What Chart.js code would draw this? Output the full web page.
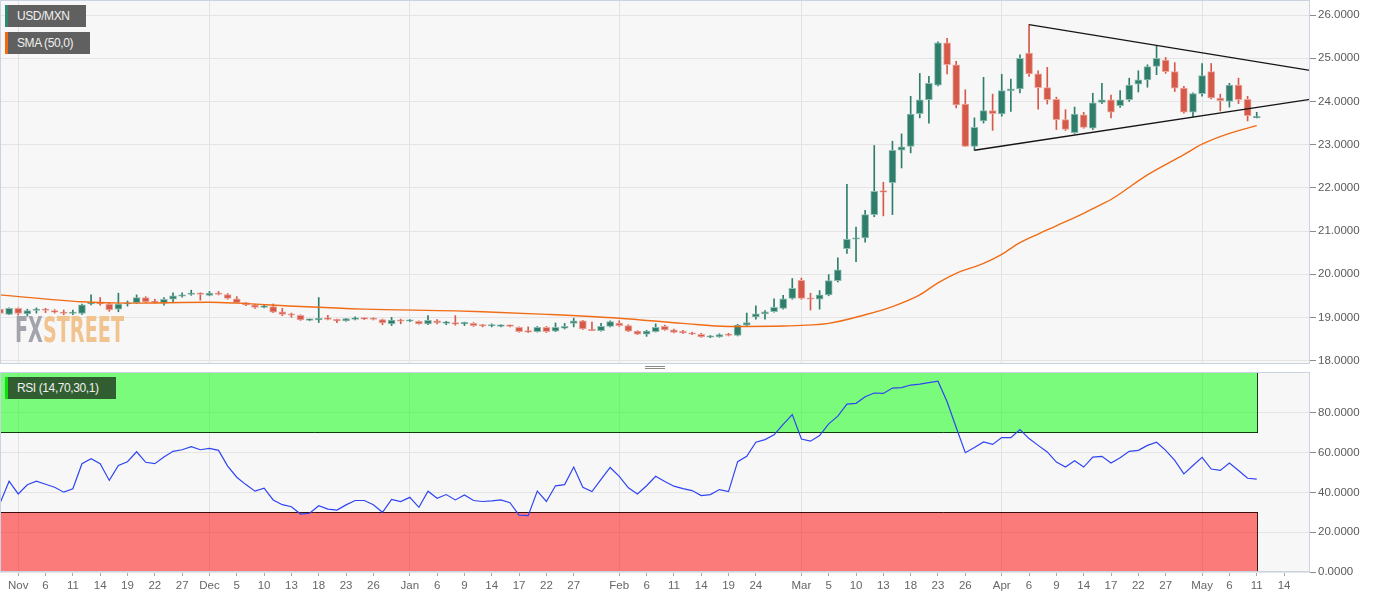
<!DOCTYPE html>
<html>
<head>
<meta charset="utf-8">
<title>USD/MXN</title>
<script src="https://cdn.jsdelivr.net/npm/chart.js@4.4.1/dist/chart.umd.min.js"></script>
<style>
    body { margin: 0; width: 1387px; height: 598px; overflow: hidden; background: #fff; position: relative; font-family: "Liberation Sans", Arial, sans-serif; }
    .panel { position: absolute; left: 0; width: 1387px; }
    #pricePanel { top: 0; height: 364px; }
    #rsiPanel { top: 370px; height: 228px; }
    .tag { position: absolute; left: 5px; height: 22px; line-height: 22px; box-sizing: border-box; padding-left: 9px; border-left: 3px solid; background: #606060; color: #f0f0f0; font-size: 12px; letter-spacing: -0.4px; white-space: nowrap; }
    #tagPrice { top: 5px; width: 81px; border-color: #2e8b6e; }
    #tagSma { top: 32px; width: 85px; border-color: #ef6a10; }
    #tagRsi { top: 377px; width: 111px; border-color: #10e010; background: #305e30; }
    #splitter { position: absolute; left: 645px; top: 366px; width: 20px; height: 1px; border-top: 1px solid #8a8a8a; border-bottom: 1px solid #8a8a8a; }
    #logo { position: absolute; left: 15px; top: 312px; font: bold 36px/36px "Liberation Sans Narrow", "DejaVu Sans Condensed", sans-serif; transform-origin: 0 0; white-space: nowrap; }
    #logo .fx { color: #a3a3ab; }
    #logo .st { color: #f1c48f; }
</style>
</head>
<body>
<div class="panel" id="pricePanel"><canvas id="chartPrice"></canvas></div>
<div class="panel" id="rsiPanel"><canvas id="chartRsi"></canvas></div>
<div id="logo"><span class="fx">FX</span><span class="st">STREET</span></div>
<div class="tag" id="tagPrice">USD/MXN</div>
<div class="tag" id="tagSma">SMA (50,0)</div>
<div class="tag" id="tagRsi">RSI (14,70,30,1)</div>
<div id="splitter"></div>
<script>
// daily candles, one per weekday starting 2019-10-30
const opens = [
    19.19, 19.07, 19.21, 19.08, 19.16, 19.18, 19.15, 19.12, 19.09, 19.09,
    19.31, 19.35, 19.31, 19.19, 19.31, 19.34, 19.46, 19.38, 19.33, 19.42,
    19.49, 19.53, 19.56, 19.51, 19.56, 19.53, 19.43, 19.34, 19.29, 19.23,
    19.25, 19.13, 19.08, 19.05, 18.93, 18.94, 18.99, 18.95, 18.92, 18.95,
    18.98, 18.98, 18.95, 18.85, 18.94, 18.91, 18.91, 18.85, 18.92, 18.86,
    18.88, 18.85, 18.86, 18.82, 18.80, 18.79, 18.81, 18.77, 18.67, 18.67,
    18.77, 18.68, 18.75, 18.86, 18.92, 18.71, 18.69, 18.79, 18.87, 18.81,
    18.68, 18.61, 18.67, 18.79, 18.71, 18.68, 18.64, 18.61, 18.54, 18.55,
    18.60, 18.58, 18.82, 19.01, 19.08, 19.13, 19.21, 19.44, 19.86, 19.44,
    19.42, 19.52, 19.85, 20.59, 20.81, 20.84, 21.38, 21.93, 22.12, 22.87,
    22.96, 23.72, 24.04, 24.38, 25.36, 24.85, 23.94, 22.96, 23.55, 23.79,
    23.71, 24.25, 24.29, 25.12, 24.64, 24.32, 24.05, 23.58, 23.28, 23.69,
    23.38, 23.98, 24.04, 23.90, 24.04, 24.40, 24.50, 24.81, 24.96, 24.69,
    24.31, 23.75, 24.18, 24.69, 24.08, 24.00, 24.38, 24.05, 23.62
]
const highs = [
    19.20, 19.22, 19.22, 19.19, 19.22, 19.21, 19.18, 19.17, 19.17, 19.31,
    19.52, 19.46, 19.33, 19.56, 19.38, 19.52, 19.48, 19.42, 19.46, 19.57,
    19.57, 19.63, 19.57, 19.60, 19.60, 19.55, 19.48, 19.35, 19.31, 19.29,
    19.31, 19.21, 19.10, 19.06, 18.96, 19.46, 19.05, 18.96, 18.98, 19.01,
    18.99, 18.99, 18.96, 19.00, 18.96, 18.95, 18.92, 19.04, 18.95, 18.91,
    19.04, 18.89, 18.88, 18.84, 18.85, 18.83, 18.82, 18.78, 18.78, 18.79,
    18.79, 18.87, 18.86, 18.98, 18.93, 18.89, 18.86, 18.92, 18.92, 18.83,
    18.69, 18.70, 18.85, 18.82, 18.73, 18.70, 18.66, 18.63, 18.58, 18.62,
    18.63, 18.84, 19.10, 19.27, 19.16, 19.43, 19.51, 19.90, 19.91, 19.56,
    19.62, 19.99, 20.38, 22.08, 21.09, 21.48, 22.98, 22.13, 23.08, 23.25,
    24.12, 24.65, 24.58, 25.38, 25.46, 24.93, 24.27, 23.62, 24.56, 24.17,
    24.63, 24.52, 25.08, 25.78, 24.71, 24.79, 24.10, 23.81, 23.87, 23.75,
    24.19, 24.42, 24.15, 24.25, 24.54, 24.71, 24.85, 25.29, 25.02, 24.90,
    24.35, 24.20, 24.88, 24.88, 24.17, 24.42, 24.54, 24.12, 23.75
]
const lows = [
    19.07, 19.06, 19.05, 19.03, 19.10, 19.11, 19.10, 19.06, 19.06, 19.07,
    19.29, 19.28, 19.14, 19.13, 19.26, 19.32, 19.34, 19.33, 19.28, 19.36,
    19.47, 19.51, 19.40, 19.50, 19.52, 19.42, 19.33, 19.27, 19.21, 19.22,
    19.11, 19.04, 19.00, 18.93, 18.92, 18.88, 18.94, 18.88, 18.91, 18.94,
    18.95, 18.94, 18.83, 18.81, 18.85, 18.90, 18.84, 18.83, 18.85, 18.83,
    18.82, 18.81, 18.79, 18.78, 18.78, 18.78, 18.78, 18.66, 18.65, 18.66,
    18.65, 18.67, 18.73, 18.78, 18.72, 18.69, 18.68, 18.78, 18.79, 18.67,
    18.60, 18.56, 18.66, 18.70, 18.64, 18.63, 18.60, 18.54, 18.53, 18.54,
    18.57, 18.57, 18.81, 18.96, 18.96, 19.12, 19.19, 19.42, 19.42, 19.17,
    19.19, 19.50, 19.82, 20.48, 20.29, 20.74, 21.33, 21.35, 21.38, 22.46,
    22.81, 23.62, 23.50, 24.36, 24.64, 23.85, 22.96, 22.87, 23.50, 23.33,
    23.66, 23.77, 24.20, 24.58, 23.82, 23.94, 23.35, 23.33, 23.26, 23.38,
    23.35, 23.95, 23.62, 23.86, 24.00, 24.22, 24.33, 24.62, 24.65, 24.23,
    23.73, 23.65, 24.12, 24.06, 23.78, 23.87, 23.95, 23.55, 23.62
]
const closes = [
    19.09, 19.21, 19.09, 19.16, 19.17, 19.16, 19.12, 19.09, 19.11, 19.29,
    19.35, 19.31, 19.17, 19.31, 19.34, 19.46, 19.36, 19.34, 19.42, 19.50,
    19.52, 19.56, 19.53, 19.56, 19.53, 19.44, 19.34, 19.29, 19.23, 19.27,
    19.12, 19.07, 19.05, 18.94, 18.95, 18.98, 18.95, 18.92, 18.97, 18.99,
    18.96, 18.95, 18.87, 18.94, 18.91, 18.93, 18.85, 18.93, 18.87, 18.88,
    18.84, 18.87, 18.81, 18.80, 18.82, 18.81, 18.79, 18.67, 18.66, 18.77,
    18.67, 18.77, 18.79, 18.92, 18.73, 18.69, 18.79, 18.90, 18.81, 18.68,
    18.61, 18.68, 18.77, 18.71, 18.65, 18.64, 18.61, 18.55, 18.56, 18.60,
    18.58, 18.82, 18.88, 19.08, 19.13, 19.23, 19.43, 19.67, 19.44, 19.42,
    19.52, 19.85, 20.10, 20.81, 20.83, 21.38, 21.92, 21.90, 22.87, 22.95,
    23.71, 24.04, 24.42, 25.36, 24.85, 23.92, 22.96, 23.40, 23.79, 23.72,
    24.25, 24.29, 25.00, 24.64, 24.32, 24.04, 23.58, 23.35, 23.71, 23.40,
    23.97, 24.04, 23.75, 24.04, 24.38, 24.50, 24.81, 25.00, 24.69, 24.31,
    23.75, 24.18, 24.60, 24.08, 24.02, 24.38, 24.04, 23.67, 23.63
]
const rsiValues = [
    34.5, 45.6, 39.2, 43.8, 45.6, 44.1, 42.6, 40.1, 41.8, 54.4,
    56.9, 54.4, 46.0, 53.5, 55.4, 60.4, 55.1, 54.4, 57.7, 60.6,
    61.4, 63.0, 61.4, 62.1, 61.1, 53.2, 47.6, 43.9, 40.6, 42.1,
    36.2, 33.8, 32.8, 29.1, 29.5, 33.3, 31.6, 31.1, 33.7, 35.9,
    35.9, 33.8, 30.0, 36.5, 35.4, 37.5, 32.5, 40.6, 37.0, 38.9,
    36.2, 38.7, 35.9, 35.4, 35.7, 36.2, 34.8, 28.6, 28.3, 40.6,
    35.4, 43.3, 43.9, 52.7, 42.6, 40.4, 46.5, 52.5, 48.0, 42.3,
    39.2, 43.3, 48.1, 45.5, 43.1, 41.9, 40.9, 38.4, 38.9, 41.4,
    40.4, 55.4, 58.1, 65.2, 66.5, 68.9, 74.1, 79.1, 66.8, 65.7,
    68.5, 74.4, 78.3, 84.3, 84.7, 88.0, 89.9, 89.7, 92.4, 92.6,
    93.9, 94.4, 95.1, 95.8, 85.5, 72.6, 59.9, 62.5, 65.3, 64.1,
    67.5, 67.5, 71.5, 67.0, 63.6, 60.3, 55.2, 52.7, 55.9, 52.7,
    57.7, 58.1, 54.7, 57.4, 60.6, 61.1, 63.6, 65.2, 61.1, 56.1,
    49.3, 53.5, 57.6, 51.7, 51.0, 54.7, 51.0, 47.1, 46.6
]

// SMA(50) at a few days
const smaDays = [0, 9, 14, 23, 26, 33, 40, 50, 53, 60, 68, 75, 80, 86, 91, 95, 98, 101, 103, 105, 108, 110, 112, 114, 116, 119, 121, 122, 126, 130, 132, 135, 138]
const smaValues = [19.52, 19.36, 19.33, 19.35, 19.33, 19.25, 19.19, 19.15, 19.13, 19.07, 18.98, 18.86, 18.79, 18.80, 18.86, 19.06, 19.25, 19.52, 19.80, 20.02, 20.25, 20.46, 20.73, 20.93, 21.12, 21.41, 21.62, 21.73, 22.30, 22.77, 23.01, 23.26, 23.44]

// triangle lines: [day, price]
const upperTrend = [[113, 25.78], [143.85, 24.72]]
const lowerTrend = [[107, 22.87], [143.85, 24.05]]

const rsiBandLevels = [[70, 100], [0, 30]]
const priceTicks = [18, 19, 20, 21, 22, 23, 24, 25, 26]
const rsiTicks = [0, 20, 40, 60, 80]

const tickDates = [
    "2019-11-01", "2019-11-06", "2019-11-11", "2019-11-14", "2019-11-19", "2019-11-22", "2019-11-27",
    "2019-12-02", "2019-12-05", "2019-12-10", "2019-12-13", "2019-12-18", "2019-12-23", "2019-12-26",
    "2020-01-01", "2020-01-06", "2020-01-09", "2020-01-14", "2020-01-17", "2020-01-22", "2020-01-27",
    "2020-02-03", "2020-02-06", "2020-02-11", "2020-02-14", "2020-02-19", "2020-02-24",
    "2020-03-02", "2020-03-05", "2020-03-10", "2020-03-13", "2020-03-18", "2020-03-23", "2020-03-26",
    "2020-04-01", "2020-04-06", "2020-04-09", "2020-04-14", "2020-04-17", "2020-04-22", "2020-04-27",
    "2020-05-01", "2020-05-06", "2020-05-11", "2020-05-14"
]
const tickLabels = [
    "Nov", "6", "11", "14", "19", "22", "27",
    "Dec", "5", "10", "13", "18", "23", "26",
    "Jan", "6", "9", "14", "17", "22", "27",
    "Feb", "6", "11", "14", "19", "24",
    "Mar", "5", "10", "13", "18", "23", "26",
    "Apr", "6", "9", "14", "17", "22", "27",
    "May", "6", "11", "14"
]

// weekday calendar -> index on the x axis
const fmt = d => d.getFullYear() + "-" + String(d.getMonth() + 1).padStart(2, "0") + "-" + String(d.getDate()).padStart(2, "0")
const days = []
for (let d = new Date(2019, 9, 30); days.length < 150; d.setDate(d.getDate() + 1)) {
    if (d.getDay() % 6) days.push(fmt(d))
}
const tickIdx = tickDates.map(s => days.indexOf(s))
const monthIdx = tickIdx.filter((v, i) => isNaN(+tickLabels[i]))
const xMax = 143.85

Chart.defaults.font.family = '"Liberation Sans", Arial, sans-serif'
Chart.defaults.font.size = 11.5
Chart.defaults.color = "#5a5a5a"

const GREEN = "#2f7e6c", RED = "#d65a4a"
const isUp = i => closes[i] >= opens[i]

const monthGrid = c => (c.tick && monthIdx.includes(c.tick.value)) ? "#e2e2e2" : "rgba(0,0,0,0)"

const panelFrame = {
    id: "panelFrame",
    beforeDraw(chart) {
        const a = chart.chartArea, ctx = chart.ctx
        ctx.save()
        ctx.fillStyle = "#f7f7f7"
        ctx.fillRect(a.left, a.top, a.right - a.left, a.bottom - a.top)
        ctx.restore()
    },
    afterDraw(chart) {
        const a = chart.chartArea, ctx = chart.ctx
        ctx.save()
        ctx.strokeStyle = "#cbd3e3"
        ctx.lineWidth = 1
        ctx.strokeRect(a.left + 0.5, a.top + 0.5, a.right - a.left - 1, a.bottom - a.top - 1)
        ctx.restore()
    }
}

// overbought / oversold zones: filled, edged on the sides and on the inner level only
const rsiBands = {
    id: "rsiBands",
    beforeDatasetsDraw(chart) {
        const { ctx, scales: { x, y } } = chart
        const x0 = Math.round(x.getPixelForValue(0))
        const x1 = Math.round(x.getPixelForValue(rsiValues.length - 1))
        const fills = ["rgba(0,255,0,0.5)", "rgba(255,0,0,0.5)"]
        const edges = ["rgba(0,40,0,0.9)", "rgba(40,0,0,0.9)"]
        ctx.save()
        rsiBandLevels.forEach(([lo, hi], k) => {
            const top = Math.round(y.getPixelForValue(hi))
            const bot = Math.round(y.getPixelForValue(lo))
            ctx.fillStyle = fills[k]
            ctx.fillRect(x0, top, x1 - x0, bot - top)
            const inner = k === 0 ? bot - 0.5 : top + 0.5
            ctx.strokeStyle = edges[k]
            ctx.lineWidth = 1
            ctx.beginPath()
            ctx.moveTo(x0 + 0.5, top)
            ctx.lineTo(x0 + 0.5, bot)
            ctx.moveTo(x1 + 0.5, top)
            ctx.lineTo(x1 + 0.5, bot)
            ctx.moveTo(x0, inner)
            ctx.lineTo(x1 + 1, inner)
            ctx.stroke()
        })
        ctx.restore()
    }
}

const noPadY = s => { s.width = 77; s.paddingTop = 0; s.paddingBottom = 0 }

new Chart(
    document.getElementById("chartPrice").getContext("2d"),
    {
        type: "bar",
        data: {
            datasets: [
                {
                    type: "line",
                    label: "upper",
                    data: upperTrend.map(p => ({ x: p[0], y: p[1] })),
                    borderColor: "#151515",
                    borderWidth: 1.3,
                    pointRadius: 0,
                    order: 0
                },
                {
                    type: "line",
                    label: "lower",
                    data: lowerTrend.map(p => ({ x: p[0], y: p[1] })),
                    borderColor: "#151515",
                    borderWidth: 1.3,
                    pointRadius: 0,
                    order: 0
                },
                {
                    type: "line",
                    label: "SMA (50,0)",
                    data: smaDays.map((d, i) => ({ x: d, y: smaValues[i] })),
                    borderColor: "#f06c16",
                    borderWidth: 1.4,
                    pointRadius: 0,
                    cubicInterpolationMode: "monotone",
                    order: 1
                },
                {
                    label: "body",
                    data: opens.map((o, i) => ({ x: i, y: [o, closes[i]] })),
                    backgroundColor: opens.map((o, i) => isUp(i) ? GREEN : RED),
                    borderColor: opens.map((o, i) => isUp(i) ? "#8dbcb0" : "#eca79e"),
                    borderWidth: 1,
                    borderSkipped: false,
                    barThickness: 7,
                    minBarLength: 1.5,
                    grouped: false,
                    order: 2
                },
                {
                    label: "wick",
                    data: lows.map((l, i) => ({ x: i, y: [l, highs[i]] })),
                    backgroundColor: opens.map((o, i) => isUp(i) ? GREEN : RED),
                    barThickness: 1,
                    grouped: false,
                    order: 3
                }
            ]
        },
        options: {
            responsive: true,
            maintainAspectRatio: false,
            animation: false,
            events: [],
            layout: { padding: 0 },
            plugins: { legend: { display: false }, tooltip: { enabled: false } },
            scales: {
                x: {
                    type: "linear",
                    min: 0,
                    max: xMax,
                    offset: false,
                    afterBuildTicks: s => { s.ticks = tickIdx.map(v => ({ value: v })) },
                    afterFit: s => { s.height = 0; s.paddingLeft = 0; s.paddingRight = 0 },
                    ticks: { display: false, autoSkip: false },
                    grid: { offset: false, drawTicks: false, color: monthGrid },
                    border: { display: false }
                },
                y: {
                    position: "right",
                    min: 17.92,
                    max: 26.35,
                    afterBuildTicks: s => { s.ticks = priceTicks.map(v => ({ value: v })) },
                    afterFit: noPadY,
                    ticks: { callback: v => v.toFixed(4), padding: 2 },
                    grid: { color: "#e4e4e4", tickLength: 6, tickColor: "#8a8a8a" },
                    border: { display: false }
                }
            }
        },
        plugins: [panelFrame]
    }
)

new Chart(
    document.getElementById("chartRsi").getContext("2d"),
    {
        type: "line",
        data: {
            datasets: [{
                label: "RSI (14,70,30,1)",
                data: rsiValues.map((v, i) => ({ x: i, y: v })),
                borderColor: "#2f45f2",
                borderWidth: 1.2,
                pointRadius: 0,
                tension: 0
            }]
        },
        options: {
            responsive: true,
            maintainAspectRatio: false,
            animation: false,
            events: [],
            layout: { padding: { top: 2 } },
            plugins: { legend: { display: false }, tooltip: { enabled: false } },
            scales: {
                x: {
                    type: "linear",
                    min: 0,
                    max: xMax,
                    offset: false,
                    afterBuildTicks: s => { s.ticks = tickIdx.map(v => ({ value: v })) },
                    afterFit: s => { s.height = 26; s.paddingLeft = 0; s.paddingRight = 0 },
                    ticks: { callback: (v, i) => tickLabels[i], autoSkip: false, maxRotation: 0, padding: 3, color: "#666" },
                    grid: { offset: false, color: monthGrid, tickColor: "#aaa", tickLength: 4 },
                    border: { display: false }
                },
                y: {
                    position: "right",
                    min: 0,
                    max: 100.45,
                    afterBuildTicks: s => { s.ticks = rsiTicks.map(v => ({ value: v })) },
                    afterFit: noPadY,
                    ticks: { callback: v => v.toFixed(4), padding: 2 },
                    grid: { color: "#e4e4e4", tickLength: 6, tickColor: "#8a8a8a" },
                    border: { display: false }
                }
            }
        },
        plugins: [panelFrame, rsiBands]
    }
)

// squeeze the watermark to its width in the picture
const logo = document.getElementById("logo")
logo.style.transform = "scaleX(" + (109 / logo.getBoundingClientRect().width) + ")"
</script>
</body>
</html>
